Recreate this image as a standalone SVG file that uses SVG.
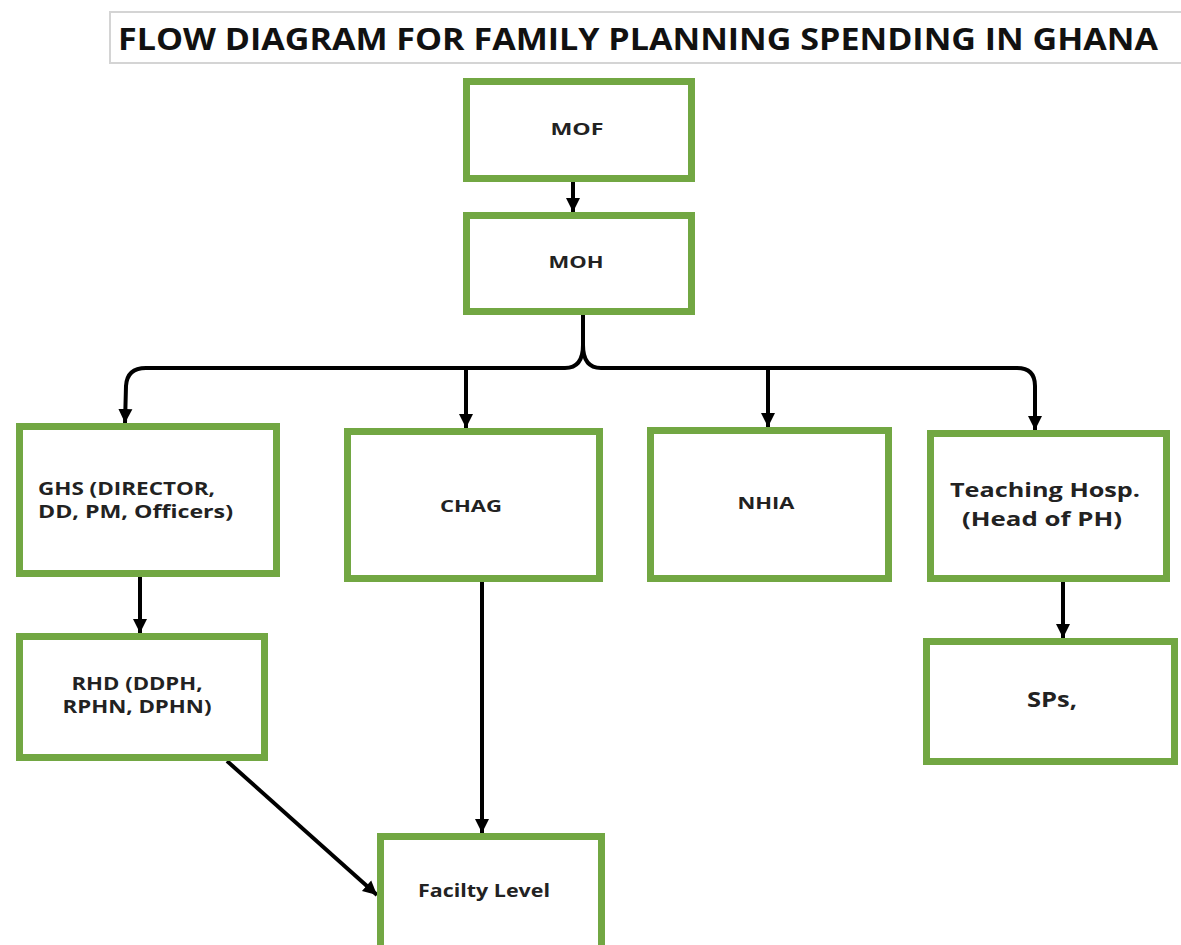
<svg xmlns="http://www.w3.org/2000/svg" width="1181" height="945" viewBox="0 0 1181 945">
<defs>
<marker id="ah" markerUnits="userSpaceOnUse" markerWidth="16" markerHeight="16" refX="14" refY="8" orient="auto">
<path d="M0,1 L14,8 L0,15 z" fill="#000"/>
</marker>
<style>
.box{fill:#fff;stroke:#72a743;stroke-width:7}
.lbl{font-family:"Open Sans","DejaVu Sans",sans-serif;font-weight:bold;fill:#222}
.c{stroke:#000;stroke-width:4;fill:none;marker-end:url(#ah)}
.t{font-family:"Open Sans","DejaVu Sans",sans-serif;font-weight:bold;fill:#111}
</style>
</defs>
<rect width="1181" height="945" fill="#fff"/>
<g id="title">
<rect x="110" y="12" width="1085" height="51" fill="#fff" stroke="#d4d4d4" stroke-width="2"/>
<text class="t" x="118" y="50" font-size="30" textLength="1040" lengthAdjust="spacingAndGlyphs">FLOW DIAGRAM FOR FAMILY PLANNING SPENDING IN GHANA</text>
</g>
<g id="connectors">
<line class="c" x1="573" y1="182" x2="573" y2="212"/>
<path class="c" d="M583,315 L583,345 Q583,368 565,368 L146,368 Q127,368 126,386 L125,423"/>
<path class="c" d="M583,345 Q583,368 601,368 L1017,368 Q1035,368 1035,386 L1035,430"/>
<line class="c" x1="466" y1="368" x2="466" y2="428"/>
<line class="c" x1="768" y1="368" x2="768" y2="427"/>
<line class="c" x1="140" y1="577" x2="140" y2="633"/>
<line class="c" x1="482" y1="582" x2="482" y2="833"/>
<line class="c" x1="1063" y1="582" x2="1063" y2="638"/>
<line class="c" x1="227" y1="761" x2="377" y2="895"/>
</g>
<g id="mof"><rect class="box" x="466.5" y="81.5" width="225" height="97"/>
<text class="lbl" x="577" y="135" font-size="16" text-anchor="middle" textLength="53" lengthAdjust="spacingAndGlyphs">MOF</text></g>
<g id="moh"><rect class="box" x="466.5" y="215.5" width="225" height="96"/>
<text class="lbl" x="576" y="268" font-size="16" text-anchor="middle" textLength="55" lengthAdjust="spacingAndGlyphs">MOH</text></g>
<g id="ghs"><rect class="box" x="19.5" y="426.5" width="257" height="147"/>
<text class="lbl" x="38" y="495" font-size="18" textLength="177" lengthAdjust="spacingAndGlyphs">GHS (DIRECTOR,</text>
<text class="lbl" x="38" y="518" font-size="18" textLength="195" lengthAdjust="spacingAndGlyphs">DD, PM,  Officers)</text></g>
<g id="rhd"><rect class="box" x="19.5" y="636.5" width="245" height="121"/>
<text class="lbl" x="137" y="690" font-size="18" text-anchor="middle" textLength="131" lengthAdjust="spacingAndGlyphs">RHD (DDPH,</text>
<text class="lbl" x="137" y="713" font-size="18" text-anchor="middle" textLength="149" lengthAdjust="spacingAndGlyphs">RPHN, DPHN)</text></g>
<g id="chag"><rect class="box" x="347.5" y="431.5" width="252" height="147"/>
<text class="lbl" x="471" y="512" font-size="16" text-anchor="middle" textLength="62" lengthAdjust="spacingAndGlyphs">CHAG</text></g>
<g id="nhia"><rect class="box" x="650.5" y="430.5" width="238" height="148"/>
<text class="lbl" x="766" y="509" font-size="16" text-anchor="middle" textLength="57" lengthAdjust="spacingAndGlyphs">NHIA</text></g>
<g id="teaching"><rect class="box" x="930.5" y="433.5" width="236" height="145"/>
<text class="lbl" x="1045" y="497" font-size="20" text-anchor="middle" textLength="190" lengthAdjust="spacingAndGlyphs">Teaching Hosp.</text>
<text class="lbl" x="1042" y="526" font-size="20" text-anchor="middle" textLength="160" lengthAdjust="spacingAndGlyphs">(Head of PH)</text></g>
<g id="sps"><rect class="box" x="926.5" y="641.5" width="248" height="120"/>
<text class="lbl" x="1052" y="707" font-size="22" text-anchor="middle" textLength="50" lengthAdjust="spacingAndGlyphs">SPs,</text></g>
<g id="facility"><rect class="box" x="380.5" y="836.5" width="221" height="130"/>
<text class="lbl" x="484" y="897" font-size="18" text-anchor="middle" textLength="132" lengthAdjust="spacingAndGlyphs">Facilty Level</text></g>
</svg>
